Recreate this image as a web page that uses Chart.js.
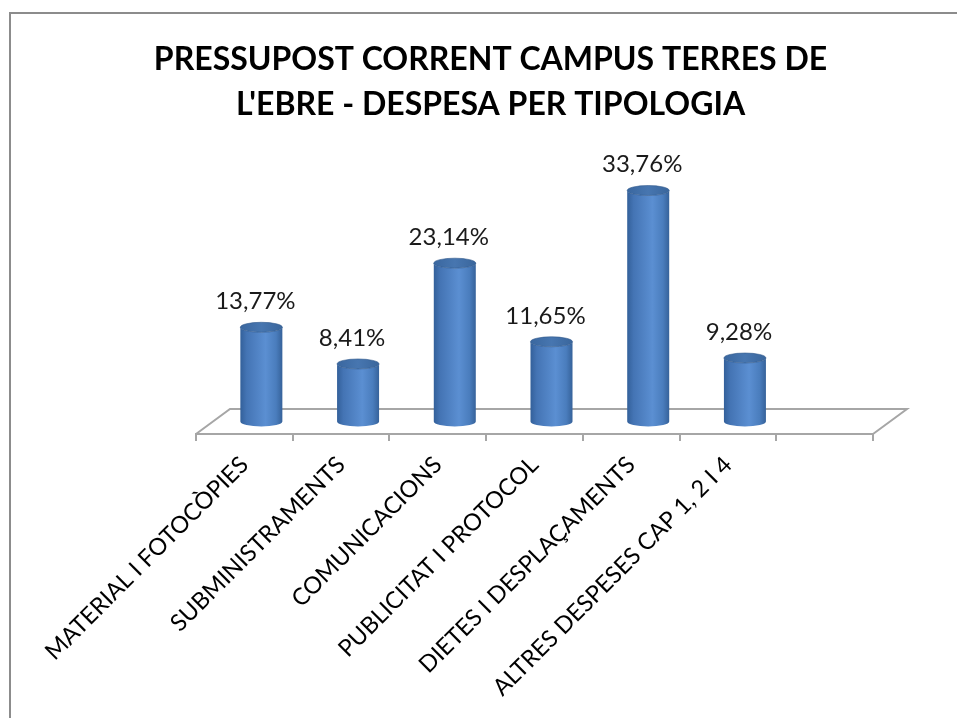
<!DOCTYPE html>
<html><head><meta charset="utf-8">
<script src="https://cdn.jsdelivr.net/npm/chart.js@4/dist/chart.umd.min.js"></script>
<style>
html,body{margin:0;padding:0;background:#fff;overflow:hidden;}
#wrap{position:relative;width:957px;height:718px;overflow:hidden;}
#frame{position:absolute;left:9px;top:12px;width:1000px;height:800px;border:2px solid #8c8c8c;box-sizing:border-box;}
canvas{position:absolute;left:0;top:0;}
</style></head><body>
<div id="wrap"><div id="frame"></div><canvas id="c" width="957" height="718"></canvas></div>
<script>
const titleLines = ["PRESSUPOST CORRENT CAMPUS TERRES DE", "L'EBRE - DESPESA PER TIPOLOGIA"];
const categories = ["MATERIAL I FOTOCÒPIES", "SUBMINISTRAMENTS", "COMUNICACIONS", "PUBLICITAT I PROTOCOL", "DIETES I DESPLAÇAMENTS", "ALTRES DESPESES CAP 1, 2 I 4", ""];
const values = [13.77, 8.41, 23.14, 11.65, 33.76, 9.28, null];
const valueLabels = values.map(v => v == null ? "" : v.toFixed(2).replace('.', ',') + '%');

const DEPTH_X = 34, DEPTH_Y = 25;

const cylPlugin = {
  id: 'cyl3d',
  beforeDatasetsDraw(chart) {
    const ctx = chart.ctx, ca = chart.chartArea;
    ctx.save();
    ctx.strokeStyle = '#a6a6a6';
    ctx.lineWidth = 2;
    ctx.beginPath();
    ctx.moveTo(ca.left, ca.bottom);
    ctx.lineTo(ca.left + DEPTH_X, ca.bottom - DEPTH_Y);
    ctx.lineTo(ca.right + DEPTH_X, ca.bottom - DEPTH_Y);
    ctx.lineTo(ca.right, ca.bottom);
    ctx.stroke();
    ctx.restore();
  },
  afterDatasetsDraw(chart) {
    const ctx = chart.ctx;
    const meta = chart.getDatasetMeta(0);
    meta.data.forEach((el, i) => {
      if (values[i] == null) return;
      const cx = el.x + DEPTH_X / 2;
      const top = el.y - DEPTH_Y / 2;
      const base = el.base - DEPTH_Y / 2;
      const rx = 21, ry = 5;
      ctx.save();
      const g = ctx.createLinearGradient(cx - rx, 0, cx + rx, 0);
      g.addColorStop(0, '#33609a');
      g.addColorStop(0.15, '#4474b4');
      g.addColorStop(0.6, '#5b8fd2');
      g.addColorStop(0.85, '#4a7dbd');
      g.addColorStop(1, '#36629a');
      ctx.beginPath();
      ctx.moveTo(cx - rx, top);
      ctx.lineTo(cx - rx, base);
      ctx.ellipse(cx, base, rx, ry, 0, Math.PI, 0, true);
      ctx.lineTo(cx + rx, top);
      ctx.ellipse(cx, top, rx, ry, 0, 0, Math.PI, false);
      ctx.closePath();
      ctx.fillStyle = g;
      ctx.fill();
      const gt = ctx.createLinearGradient(cx - rx, 0, cx + rx, 0);
      gt.addColorStop(0, '#3a679f');
      gt.addColorStop(0.5, '#4776b0');
      gt.addColorStop(1, '#3a669c');
      ctx.beginPath();
      ctx.ellipse(cx, top, rx, ry, 0, 0, Math.PI * 2);
      ctx.fillStyle = gt;
      ctx.fill();
      ctx.strokeStyle = 'rgba(50,90,140,0.6)';
      ctx.lineWidth = 1;
      ctx.stroke();
      ctx.fillStyle = '#1a1a1a';
      ctx.font = '24px Lato';
      ctx.textAlign = 'center';
      ctx.textBaseline = 'middle';
      ctx.fillText(valueLabels[i], el.x + 11, top - 26);
      ctx.restore();
    });
  }
};

new Chart(document.getElementById('c'), {
  type: 'bar',
  data: {
    labels: categories,
    datasets: [{ data: values, backgroundColor: 'rgba(0,0,0,0)', borderWidth: 0, barPercentage: 0.5, categoryPercentage: 0.87 }]
  },
  options: {
    responsive: false,
    animation: false,
    devicePixelRatio: 1,
    layout: { padding: { left: 24, right: 0, top: 0, bottom: 0 } },
    plugins: {
      legend: { display: false },
      tooltip: { enabled: false },
      title: {
        display: true, text: titleLines, color: '#000',
        font: { family: 'Lato', size: 32, weight: 'bold', lineHeight: 1.38 },
        padding: { top: 38, bottom: 34 }
      }
    },
    scales: {
      x: {
        grid: { display: true, drawOnChartArea: false, drawTicks: true, tickLength: 7, color: '#a6a6a6', lineWidth: 2, offset: true },
        border: { display: true, color: '#a6a6a6', width: 2 },
        ticks: { color: '#000', font: { family: 'Lato', size: 23.5 }, maxRotation: 45, minRotation: 45, padding: 10, autoSkip: false },
        afterFit: s => { s.height = 284; }
      },
      y: {
        min: 0, max: 40, display: true,
        grid: { display: false }, border: { display: false }, ticks: { display: false },
        afterFit: s => { s.width = 172; }
      },
      y2: {
        position: 'right', min: 0, max: 1, display: true,
        grid: { display: false }, border: { display: false }, ticks: { display: false },
        afterFit: s => { s.width = 84; }
      }
    }
  },
  plugins: [cylPlugin]
});
</script>
</body></html>
